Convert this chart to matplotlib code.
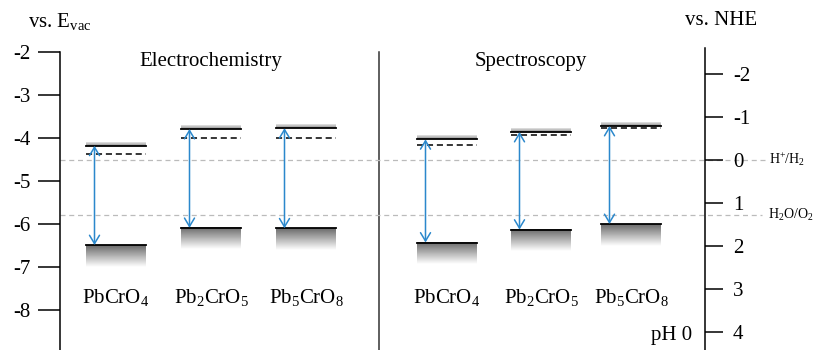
import numpy as np
import matplotlib
matplotlib.use("Agg")
import matplotlib.pyplot as plt
from matplotlib.colors import LinearSegmentedColormap

plt.rcParams['font.family'] = ['Liberation Serif', 'DejaVu Serif']
plt.rcParams['mathtext.fontset'] = 'custom'
plt.rcParams['mathtext.rm'] = 'Liberation Serif'
plt.rcParams['mathtext.it'] = 'Liberation Serif:italic'
plt.rcParams['axes.unicode_minus'] = False

# band positions vs. vacuum level (eV)
names = ["PbCrO$_4$", "Pb$_2$CrO$_5$", "Pb$_5$CrO$_8$"]
elec_cb = [-4.18, -3.79, -3.77]
elec_ef = [-4.37, -4.01, -4.00]
elec_vb = [-6.49, -6.09, -6.10]
spec_cb = [-4.03, -3.86, -3.72]
spec_ef = [-4.16, -3.94, -3.76]
spec_vb = [-6.43, -6.13, -6.00]

h2_level = -4.5     # H+/H2
o2_level = -5.8     # H2O/O2
nhe_offset = -4.5   # E(NHE) = -E(vac) + offset

evac_ticks = [-2, -3, -4, -5, -6, -7, -8]
nhe_ticks = [-2, -1, 0, 1, 2, 3, 4]

# layout (x in pixels across the figure)
elec_x = [116, 211, 306]
spec_x = [447, 541, 631]
bar_w = 60
ymin, ymax = -8.93, -0.79


def py(y):
    # pixel row -> vacuum energy, for placing text
    return -4 - (y - 138) / 43.0


fig = plt.figure(figsize=(8.16, 3.5), dpi=100)
ax = fig.add_axes([0, 0, 1, 1])
ax.set_xlim(0, 816)
ax.set_ylim(ymin, ymax)

for s in ['top', 'right', 'bottom']:
    ax.spines[s].set_visible(False)
ax.spines['left'].set_position(('data', 60))
ax.spines['left'].set_bounds(ymin, -2)
ax.spines['left'].set_linewidth(1.1)
ax.set_xticks([])
ax.set_yticks(evac_ticks)
ax.set_yticklabels([str(t) for t in evac_ticks])
ax.tick_params(axis='y', direction='out', length=16, width=1.1, pad=5, labelsize=15)

ax2 = ax.twinx()
ax2.set_ylim(-ymin + nhe_offset, -ymax + nhe_offset)
for s in ['top', 'left', 'bottom']:
    ax2.spines[s].set_visible(False)
ax2.spines['right'].set_position(('data', 705))
ax2.spines['right'].set_bounds(-ymin + nhe_offset, -2.6)
ax2.spines['right'].set_linewidth(1.1)
ax2.set_yticks(nhe_ticks)
ax2.set_yticklabels([str(t) for t in nhe_ticks])
ax2.tick_params(axis='y', direction='out', length=13, width=1.1, pad=7, labelsize=15)

# divider between the two panels
ax.plot([379, 379], [ymin, -2.0], color='#333333', lw=1.1)

# redox reference lines
ax.plot([60, 765], [h2_level, h2_level], color='#bbbbbb', lw=0.9, dashes=(4, 3))
ax.plot([60, 762], [o2_level, o2_level], color='#bbbbbb', lw=0.9, dashes=(4, 3))

vb_cmap = LinearSegmentedColormap.from_list('vb', ['#6a6a6a', '#ffffff'])
cb_cmap = LinearSegmentedColormap.from_list('cb', ['#e6e6e6', '#8a8a8a'])
grad = np.linspace(0, 1, 64).reshape(-1, 1)

for xs, cb, ef, vb in [(elec_x, elec_cb, elec_ef, elec_vb),
                       (spec_x, spec_cb, spec_ef, spec_vb)]:
    for i in range(3):
        x0 = xs[i] - bar_w / 2
        x1 = xs[i] + bar_w / 2
        # conduction band
        ax.imshow(grad, cmap=cb_cmap, extent=(x0, x1, cb[i], cb[i] + 0.09),
                  aspect='auto', interpolation='bilinear', zorder=2)
        ax.plot([x0, x1], [cb[i], cb[i]], color='black', lw=1.3, zorder=3)
        # dashed level
        ax.plot([x0, x1], [ef[i], ef[i]], color='black', lw=1.1,
                dashes=(4, 2.5), zorder=3)
        # valence band
        ax.imshow(grad, cmap=vb_cmap, extent=(x0, x1, vb[i] - 0.5, vb[i]),
                  aspect='auto', interpolation='bilinear', zorder=2)
        ax.plot([x0, x1], [vb[i], vb[i]], color='black', lw=1.3, zorder=3)
        # band gap arrow
        ax.annotate('', xy=(x0 + 8.5, vb[i]), xytext=(x0 + 8.5, cb[i]),
                    arrowprops=dict(arrowstyle='<->,head_length=0.5,head_width=0.3',
                                    color='#2b88cc', lw=1.1, shrinkA=0, shrinkB=0,
                                    mutation_scale=12), zorder=4)
        ax.text(xs[i], py(303), names[i], ha='center', va='baseline', fontsize=15)

ax.set_xlim(0, 816)
ax.set_ylim(ymin, ymax)

ax.text(211, py(61), "Electrochemistry", ha='center', va='center', fontsize=15)
ax.text(531, py(61), "Spectroscopy", ha='center', va='center', fontsize=15)
ax.text(28, py(27), r"vs. E$_{\rm vac}$", ha='left', va='baseline', fontsize=15)
ax.text(721, py(25), "vs. NHE", ha='center', va='baseline', fontsize=15)
ax.text(692, py(340), "pH 0", ha='right', va='baseline', fontsize=15)
ax.text(769, h2_level, r"H$^{+}$/H$_2$", ha='left', va='center', fontsize=10)
ax.text(768, o2_level, r"H$_2$O/O$_2$", ha='left', va='center', fontsize=10)

fig.savefig("out.png", dpi=100)
